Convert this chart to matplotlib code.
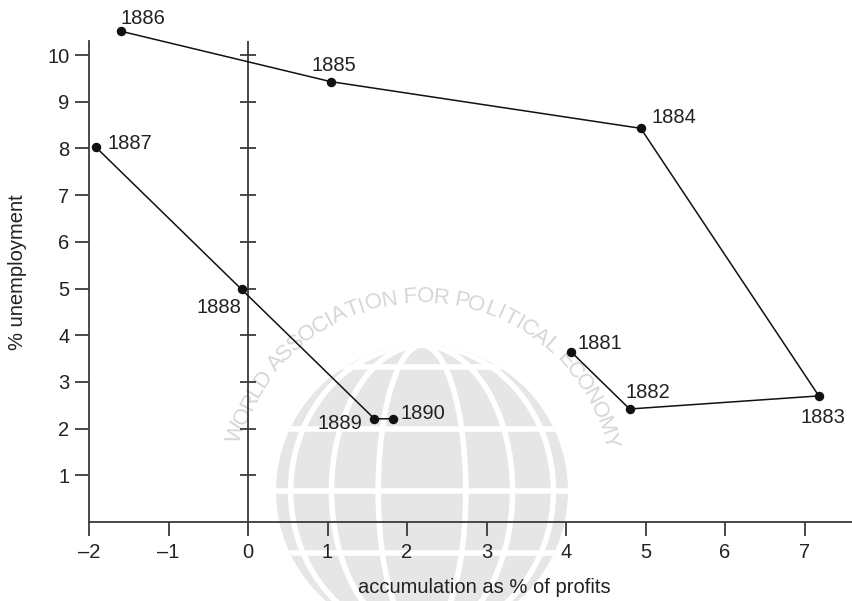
import numpy as np
import matplotlib
matplotlib.use("Agg")
import matplotlib.pyplot as plt
from matplotlib.patches import Circle, Ellipse

plt.rcParams['font.family'] = ['Liberation Sans', 'DejaVu Sans']

# data (two runs: 1881-1886 and 1887-1890)
years = ['1881', '1882', '1883', '1884', '1885', '1886', '1887', '1888', '1889', '1890']
accum = [4.06, 4.80, 7.18, 4.94, 1.04, -1.60, -1.91, -0.08, 1.59, 1.83]
unemp = [3.65, 2.42, 2.70, 8.43, 9.43, 10.51, 8.02, 4.98, 2.21, 2.21]
runs = [(0, 6), (6, 10)]
# label placement (pixel offsets, alignment)
lab_off = [(7, 3), (-4, 11), (4, -27), (11, 5), (3, 11),
           (0, 7), (11, -2), (0, -24), (-12, -10), (7, 0)]
lab_ha = ['left', 'left', 'center', 'left', 'center',
          'left', 'left', 'right', 'right', 'left']

xticks = [-2, -1, 0, 1, 2, 3, 4, 5, 6, 7]
yticks = [1, 2, 3, 4, 5, 6, 7, 8, 9, 10]

W, H = 853, 601
fig = plt.figure(figsize=(W / 100, H / 100), dpi=100)

# faint watermark behind the chart
bg = fig.add_axes([0, 0, 1, 1], zorder=0)
bg.set_xlim(0, W)
bg.set_ylim(H, 0)
bg.axis('off')
wm = '#e6e6e6'
cx, cy, r = 422, 491, 146
globe = Circle((cx, cy), r, color=wm, lw=0)
bg.add_patch(globe)
for k in [0.3, 0.62, 0.9]:
    e = Ellipse((cx, cy), 2 * r * k, 2 * r, fill=False, ec='white', lw=4)
    bg.add_patch(e)
    e.set_clip_path(globe)
for dy in [-124, -62, 0, 62, 124]:
    ln, = bg.plot([cx - r, cx + r], [cy + dy, cy + dy], color='white', lw=4)
    ln.set_clip_path(globe)
txt = 'WORLD ASSOCIATION FOR POLITICAL ECONOMY'
wid = np.array([0.5 if c == ' ' else (1.25 if c in 'WMO' else (0.55 if c == 'I' else 1.0)) for c in txt])
pos = np.cumsum(wid) - wid / 2
angs = 165 - 150 * pos / pos[-1]
for ch, a in zip(txt, angs):
    t = np.deg2rad(a)
    bg.text(cx + 194 * np.cos(t), cy - 194 * np.sin(t), ch, rotation=a - 90,
            ha='center', va='center', fontsize=16, color='#d6d6d6')

ax = fig.add_axes([89 / W, 1 - 522 / H, 1 - 89 / W, (522 - 41) / H], zorder=1)
ax.patch.set_alpha(0)
ax.set_xlim(-2, 7.61)
ax.set_ylim(0, 10.3)

axc = '#3a3a3a'
for s in ['top', 'right']:
    ax.spines[s].set_visible(False)
for s in ['left', 'bottom']:
    ax.spines[s].set_color(axc)
    ax.spines[s].set_linewidth(1.3)

ax.set_xticks(xticks)
ax.set_xticklabels([str(v).replace('-', '\u2013') for v in xticks])
ax.set_yticks(yticks)
ax.tick_params(direction='out', length=10, width=1.3, color=axc,
               labelsize=14.5, labelcolor='#222222')
ax.tick_params(axis='x', pad=5)
ax.tick_params(axis='y', pad=4)

# vertical line through zero with crossing ticks
ax.plot([0, 0], [0, 10.3], color=axc, lw=1.3, zorder=2)
ax.plot([0] * len(yticks), yticks, ls='none', marker='_', ms=11, mew=1.3,
        color=axc, zorder=2)

for a, b in runs:
    ax.plot(accum[a:b], unemp[a:b], color='#111111', lw=1.1, marker='o',
            ms=5.8, clip_on=False, zorder=3)
for yr, xv, yv, off, ha in zip(years, accum, unemp, lab_off, lab_ha):
    ax.annotate(yr, (xv, yv), xytext=off, textcoords='offset pixels',
                ha=ha, va='baseline', fontsize=14.5, color='#222222',
                annotation_clip=False)

ax.set_xlabel('accumulation as % of profits', fontsize=14.5, color='#222222')
ax.xaxis.set_label_coords((484 - 89) / 764, -(578 - 522) / 481)
ax.set_ylabel('% unemployment', fontsize=14.5, color='#222222')
ax.yaxis.set_label_coords((27 - 89) / 764, (522 - 272) / 481)

fig.savefig('out.png', dpi=100)
